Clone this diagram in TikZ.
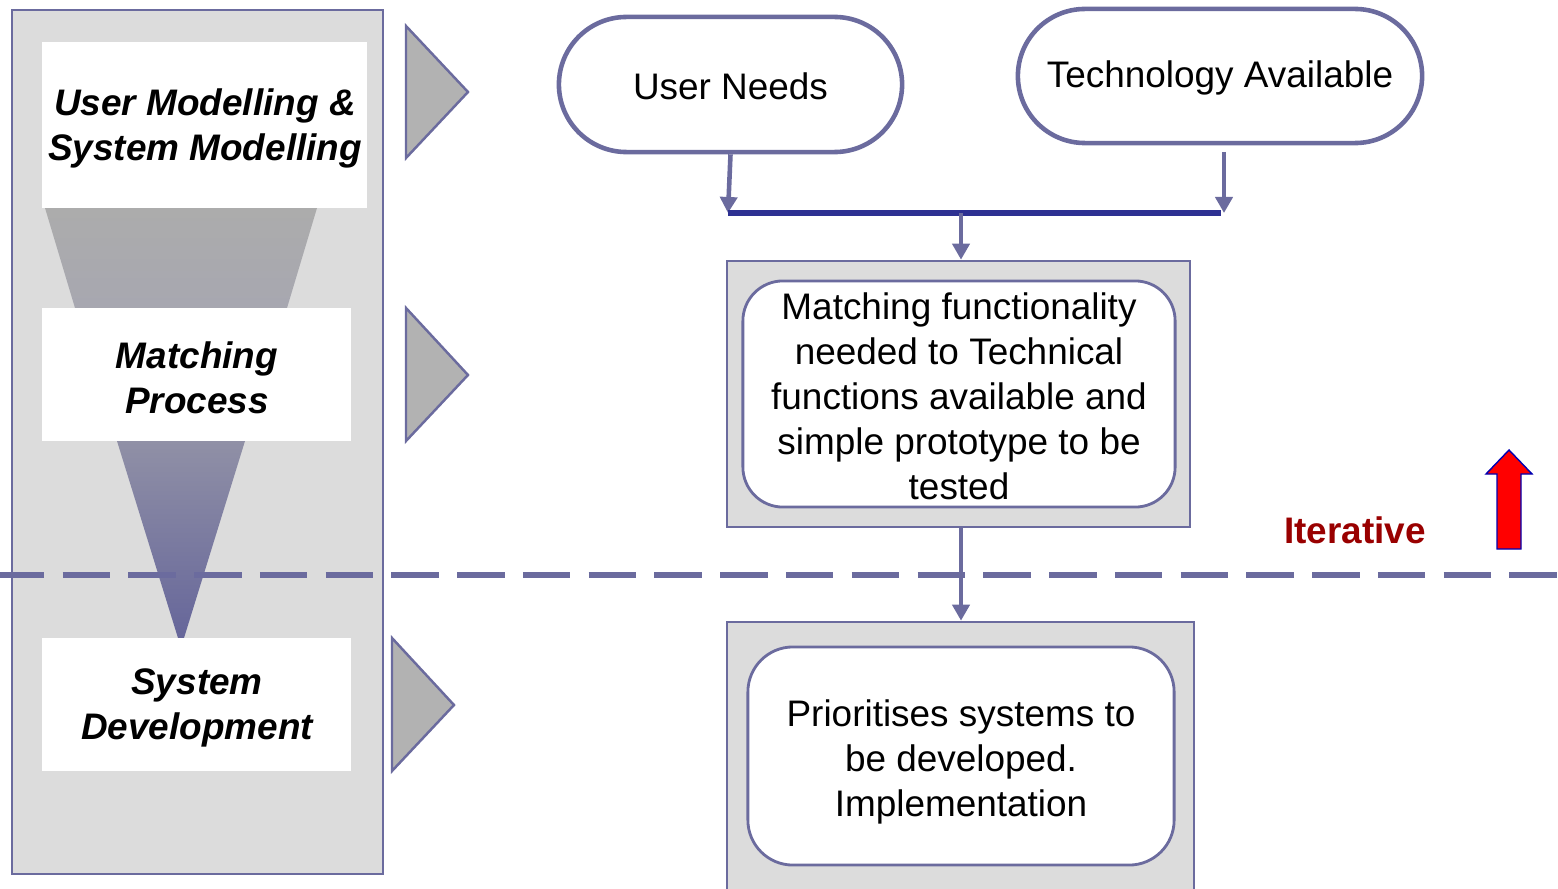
\documentclass[tikz,border=0pt]{standalone}
\usepackage{fontspec}
\setmainfont{Liberation Sans}
\usetikzlibrary{arrows.meta,shapes.misc}

\definecolor{framecol}{RGB}{107,107,158}
\definecolor{panelgray}{RGB}{220,220,220}
\definecolor{tipgray}{RGB}{178,178,178}
\definecolor{barblue}{RGB}{46,49,146}
\definecolor{iterred}{RGB}{153,0,0}

\begin{document}
\begin{tikzpicture}[x=0.01cm, y=-0.01cm]
    \tikzset{
        stagebox/.style={fill=white, inner sep=0pt},
        stagetext/.style={
            inner sep=0pt, align=center,
            font=\fontsize{10.5}{12.8}\selectfont\bfseries\itshape,
        },
        pointer/.style={draw=framecol, line width=0.7pt, fill=tipgray},
        stadium/.style={
            rounded rectangle, draw=framecol, line width=1.3pt,
            fill=white, inner sep=0pt,
        },
        outerbox/.style={draw=framecol, line width=0.7pt, fill=panelgray, inner sep=0pt},
        innerbox/.style={draw=framecol, line width=0.8pt, fill=white, inner sep=0pt},
        caption/.style={inner sep=0pt, align=center},
        flow/.style={
            draw=framecol, line width=1.3pt,
            -{Triangle[length=0.16cm, width=0.17cm]},
        },
        every node/.style={font=\fontsize{10.5}{12.8}\selectfont},
    }

    \useasboundingbox (0,0) rectangle (1558,888);

    % Left panel
    \draw[draw=framecol, line width=0.7pt, fill=panelgray] (12,10) rectangle (383,874);
    \shade[top color={rgb,255:red,172;green,172;blue,172}, bottom color={rgb,255:red,167;green,167;blue,176}]
        (45,208) -- (317,208) -- (287,308) -- (75,308) -- cycle;
    \shade[top color={rgb,255:red,144;green,144;blue,166}, bottom color={rgb,255:red,102;green,102;blue,154}]
        (117,441) -- (245,441) -- (184,638) -- (178,638) -- cycle;

    \node[stagebox, minimum width=3.25cm, minimum height=1.66cm] (usermod) at (204.5,125) {};
    \node[stagebox, minimum width=3.09cm, minimum height=1.33cm] (matchproc) at (196.5,374.5) {};
    \node[stagebox, minimum width=3.09cm, minimum height=1.33cm] (sysdev) at (196.5,704.5) {};
    \node[stagetext] (usermodtext) at (205,128) {User Modelling \&\\System Modelling};
    \node[stagetext] (matchproctext) at (197,378) {Matching\\Process};
    \node[stagetext] (sysdevtext) at (197,708) {System\\Development};

    % Pointers
    \draw[pointer] (406,26) -- (468,92) -- (406,158) -- cycle;
    \draw[pointer] (406,308) -- (468,375) -- (406,441) -- cycle;
    \draw[pointer] (392,638) -- (454,705) -- (392,771) -- cycle;

    % Dashed divider
    \draw[framecol, line width=1.5pt, dash pattern=on 13.5pt off 5.2pt, dash phase=0.9pt]
        (0,575) -- (1558,575);

    % Inputs
    \node[stadium, minimum width=3.43cm, minimum height=1.35cm] (needs) at (730.5,84.5) {};
    \node[stadium, minimum width=4.04cm, minimum height=1.34cm] (tech) at (1220,76) {};
    \node[caption] (needstext) at (730.5,86.5) {User Needs};
    \node[caption] (techtext) at (1220,78) {Technology Available};

    \coordinate (barL) at (728,213);
    \coordinate (barR) at (1221,213);
    \coordinate (barM) at (961,213);
    \coordinate (techout) at (1224,152);

    % Matching box
    \node[outerbox, minimum width=4.63cm, minimum height=2.66cm] (matchbox) at (958.5,394) {};
    \node[innerbox, minimum width=4.32cm, minimum height=2.26cm, rounded corners=0.4cm] (matchinner) at (959,394) {};
    \node[caption] (matchtext) at (959,396)
        {Matching functionality\\needed to Technical\\functions available and\\simple prototype to be\\tested};

    % Prioritising box
    \node[outerbox, minimum width=4.67cm, minimum height=2.8cm] (priobox) at (960.5,762) {};
    \node[innerbox, minimum width=4.26cm, minimum height=2.18cm, rounded corners=0.45cm] (prioinner) at (961,756) {};
    \node[caption] (priotext) at (961,762)
        {Prioritises systems to\\be developed.\\Implementation};

    % Connectors
    \draw[flow] (needs.south) -- (barL);
    \draw[flow] (techout) -- (techout |- barR);
    \draw[barblue, line width=1.7pt] (barL) -- (barR);
    \draw[flow] (barM) -- (barM |- matchbox.north);
    \draw[flow] (barM |- matchbox.south) -- (barM |- priobox.north);

    % Iteration
    \node[font=\fontsize{10.5}{12.8}\selectfont\bfseries, text=iterred] (iter) at (1355,530) {Iterative};
    \draw[draw=blue!70!black, line width=0.4pt, fill=red]
        (1509,450) -- (1532,474) -- (1521,474) -- (1521,549) -- (1497,549) -- (1497,474) -- (1486,474) -- cycle;
\end{tikzpicture}
\end{document}
